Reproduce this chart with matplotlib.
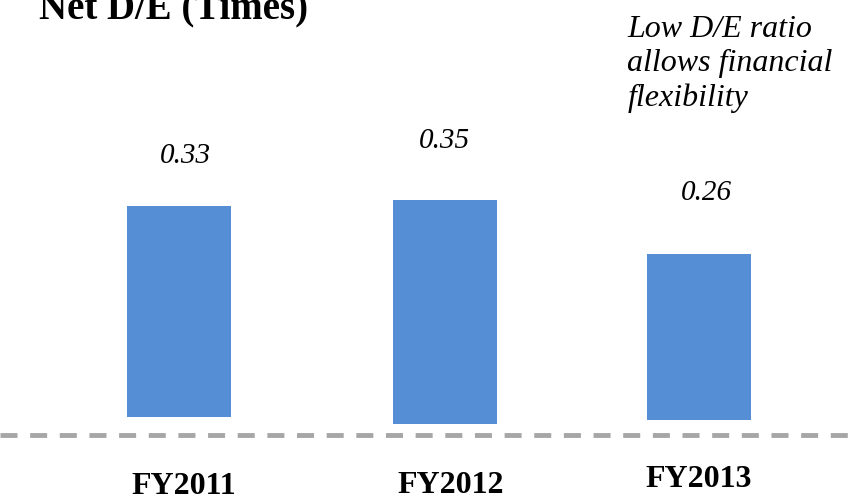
import matplotlib
matplotlib.use("Agg")
import matplotlib.pyplot as plt

# Net debt / equity by fiscal year
years = ["FY2011", "FY2012", "FY2013"]
net_de = [0.33, 0.35, 0.26]

SERIF = ["Liberation Serif", "DejaVu Serif"]
BAR_COLOR = "#558ED5"

fig = plt.figure(figsize=(8.5, 5.01), dpi=100)
ax = fig.add_axes([0, 0, 1, 1])
ax.set_axis_off()

# scale: x unit = 259.5 px, y unit = 640 px, baseline at 420 px from top
ax.set_xlim(-180 / 259.5, (850 - 180) / 259.5)
ax.set_ylim((420 - 501) / 640, 420 / 640)

x = range(len(years))
bar_base = [0.005, -0.006, 0.0]
bar_dx = [-0.005, 0.02, 0.0]
label_gap = [0.077, 0.092, 0.095]
label_dx = [0.02, 0.02, 0.03]
year_y = [-0.104, -0.102, -0.093]
year_dx = [0.015, 0.045, 0.0]

ax.bar([i + d for i, d in zip(x, bar_dx)], net_de, width=0.40,
       bottom=bar_base, color=BAR_COLOR)

for i, v in enumerate(net_de):
    ax.text(i + label_dx[i], bar_base[i] + v + label_gap[i], f"{v:.2f}",
            ha="center", va="center", fontsize=21, style="italic", family=SERIF)
    ax.text(i + year_dx[i], year_y[i], years[i], ha="center", va="center",
            fontsize=23, fontweight="bold", family=SERIF)

ax.axhline(-0.0234, color="#A6A6A6", lw=3.5, ls=(0, (3.5, 2.6)))

fig.text(0.046, 0.982, "Net D/E (Times)", ha="left", va="center",
         fontsize=28, fontweight="bold", family=SERIF)
fig.text(0.738, 0.872, "Low D/E ratio\nallows financial\nflexibility",
         ha="left", va="center", fontsize=23, style="italic", family=SERIF,
         linespacing=1.25)

fig.savefig("out.png", dpi=100)
